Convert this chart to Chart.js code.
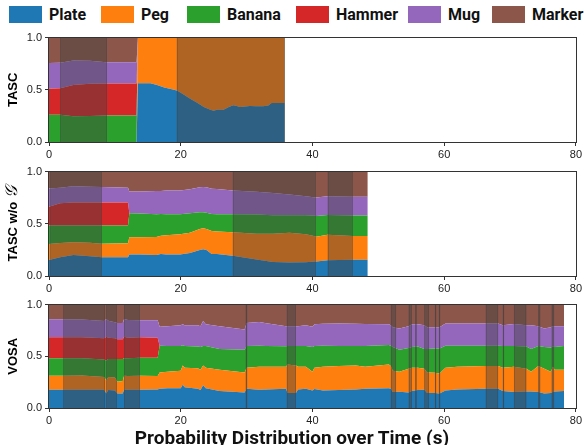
<!DOCTYPE html>
<html>
<head>
<meta charset="utf-8">
<script src="https://cdn.jsdelivr.net/npm/chart.js@4.4.1/dist/chart.umd.min.js"></script>
<style>
  html, body { margin: 0; padding: 0; background: #fff; }
  #wrap { position: relative; width: 584px; height: 445px; overflow: hidden; }
  #wrap canvas { position: absolute; left: 0; }
  .lg { position: absolute; top: 0; height: 29px; display: flex; align-items: center;
        font: 700 16px Roboto, sans-serif; color: #111; white-space: nowrap; }
  .lg i { display: inline-block; width: 33px; height: 17px; margin-right: 7px; }
  #xtitle { position: absolute; left: 0; width: 584px; top: 428px; text-align: center;
            font: 700 19px/19px Roboto, sans-serif; color: #111; white-space: nowrap; }
</style>
</head>
<body>
<div id="wrap">
  <div id="legend"></div>
  <canvas id="c1" width="584" height="136" style="top:28px"></canvas>
  <canvas id="c2" width="584" height="136" style="top:162px"></canvas>
  <canvas id="c3" width="584" height="135" style="top:295px"></canvas>
  <div id="xtitle">Probability Distribution over Time (s)</div>
</div>
<script>
// Objects, in stacking order (bottom to top)
const objects = ['Plate', 'Peg', 'Banana', 'Hammer', 'Mug', 'Marker'];
const colors  = ['#1f77b4', '#ff7f0e', '#2ca02c', '#d62728', '#9467bd', '#8c564b'];
const xTicks = [0, 20, 40, 60, 80];
const yTicks = [0, 0.5, 1];

// ---- TASC ----
const tascTime   = [0, 1.7, 3.7, 6.2, 8.7, 13.3, 13.5, 15.4, 16.4, 17.5, 19.0, 19.5, 20.5, 21.5, 22.5, 23.5, 24.5, 25.0, 25.5, 26.0, 26.5, 27.3, 28.0, 28.5, 29.0, 29.8, 30.5, 31.5, 32.5, 33.3, 33.8, 35.8];
const tascPlate  = [0, 0, 0, 0, 0, 0, .562, .562, .547, .522, .50, .49, .453, .413, .375, .335, .31, .30, .31, .31, .308, .335, .353, .345, .335, .34, .345, .343, .343, .35, .373, .373];
const tascPeg    = [0, 0, 0, 0, 0, 0, .438, .438, .453, .478, .50, .51, .547, .587, .625, .665, .69, .70, .69, .69, .692, .665, .647, .655, .665, .66, .655, .657, .657, .65, .627, .627];
const tascBanana = [.26, .26, .247, .25, .255, .255, 0, 0, 0, 0, 0, 0, 0, 0, 0, 0, 0, 0, 0, 0, 0, 0, 0, 0, 0, 0, 0, 0, 0, 0, 0, 0];
const tascHammer = [.25, .255, .30, .307, .305, .305, 0, 0, 0, 0, 0, 0, 0, 0, 0, 0, 0, 0, 0, 0, 0, 0, 0, 0, 0, 0, 0, 0, 0, 0, 0, 0];
const tascMug    = [.246, .245, .233, .221, .205, .205, 0, 0, 0, 0, 0, 0, 0, 0, 0, 0, 0, 0, 0, 0, 0, 0, 0, 0, 0, 0, 0, 0, 0, 0, 0, 0];
const tascMarker = [.244, .24, .22, .222, .235, .235, 0, 0, 0, 0, 0, 0, 0, 0, 0, 0, 0, 0, 0, 0, 0, 0, 0, 0, 0, 0, 0, 0, 0, 0, 0, 0];
const tascSpans  = [[1.7, 8.8], [19.4, 35.8]];

// ---- TASC w/o G ----
const wogTime   = [0, 1.7, 3.7, 6.2, 8.0, 12.0, 12.2, 13.8, 16.3, 17.0, 17.8, 19.9, 21.4, 22.9, 23.4, 23.9, 24.7, 25.5, 27.9, 31.5, 34, 36.5, 39, 40.4, 40.6, 42.3, 46.1, 48.4];
const wogPlate  = [.154, .18, .20, .19, .18, .18, .205, .205, .20, .21, .205, .205, .22, .25, .257, .25, .21, .21, .195, .157, .133, .13, .132, .14, .14, .15, .155, .155];
const wogPeg    = [.153, .135, .123, .128, .13, .133, .165, .167, .173, .175, .185, .195, .194, .20, .20, .20, .22, .216, .225, .248, .272, .284, .268, .24, .235, .245, .229, .229];
const wogBanana = [.176, .168, .16, .165, .173, .17, .23, .226, .219, .21, .202, .192, .186, .16, .153, .155, .165, .166, .172, .183, .178, .169, .183, .197, .20, .19, .196, .196];
const wogHammer = [.181, .213, .222, .222, .222, .222, 0, 0, 0, 0, 0, 0, 0, 0, 0, 0, 0, 0, 0, 0, 0, 0, 0, 0, 0, 0, 0, 0];
const wogMug    = [.173, .15, .154, .15, .148, .141, .209, .212, .223, .22, .228, .228, .23, .24, .243, .245, .24, .242, .228, .22, .212, .197, .182, .175, .177, .18, .178, .178];
const wogMarker = [.163, .154, .141, .145, .147, .154, .191, .19, .185, .185, .18, .18, .17, .15, .147, .15, .165, .166, .18, .192, .205, .22, .235, .248, .248, .235, .242, .242];
const wogSpans  = [[0.2, 8.0], [27.9, 40.5], [42.3, 46.1]];

// ---- VOSA ----
const vosaTime   = [0, 2.2, 5, 8.4, 8.7, 9.0, 10.0, 10.4, 11.2, 11.4, 12.0, 13.8, 16.5, 16.8, 18, 20.0, 20.3, 20.6, 22.6, 23.0, 23.4, 23.8, 25.9, 29.7, 30.0, 31.9, 33, 36.0, 36.2, 37.5, 37.8, 39.0, 40.0, 40.3, 41.6, 44, 46.6, 48, 51.6, 51.9, 52.2, 53.2, 54.6, 55.1, 56, 57.0, 57.4, 58.6, 59.3, 60.2, 62, 66.3, 68.2, 68.9, 70.6, 72.5, 73.2, 74.3, 75.2, 76.2, 76.5, 76.8, 78.2];
const vosaPlate  = [.177, .177, .177, .177, .14, .175, .17, .14, .14, .18, .177, .177, .18, .186, .19, .19, .224, .20, .185, .175, .22, .19, .165, .15, .186, .177, .18, .186, .145, .145, .18, .185, .17, .183, .17, .175, .18, .185, .19, .186, .155, .158, .15, .165, .175, .177, .145, .145, .14, .17, .18, .186, .186, .165, .155, .16, .16, .155, .14, .145, .155, .16, .165];
const vosaPeg    = [.135, .135, .137, .123, .125, .125, .125, .115, .12, .132, .133, .135, .13, .158, .16, .17, .186, .19, .20, .195, .19, .20, .205, .194, .204, .223, .22, .214, .275, .265, .22, .215, .18, .207, .23, .23, .23, .215, .23, .221, .205, .192, .23, .225, .215, .203, .199, .195, .194, .22, .22, .221, .221, .225, .245, .22, .19, .252, .24, .205, .245, .21, .205];
const vosaBanana = [.17, .17, .166, .17, .195, .175, .18, .22, .215, .17, .17, .173, .175, .259, .25, .24, .198, .21, .21, .22, .19, .21, .20, .22, .21, .203, .20, .196, .18, .19, .20, .20, .24, .21, .203, .195, .19, .20, .19, .196, .23, .214, .20, .20, .205, .19, .226, .235, .241, .213, .203, .196, .196, .21, .20, .215, .22, .193, .21, .235, .195, .22, .23];
const vosaHammer = [.202, .202, .204, .204, .23, .205, .20, .19, .19, .206, .20, .199, .195, 0, 0, 0, 0, 0, 0, 0, 0, 0, 0, 0, 0, 0, 0, 0, 0, 0, 0, 0, 0, 0, 0, 0, 0, 0, 0, 0, 0, 0, 0, 0, 0, 0, 0, 0, 0, 0, 0, 0, 0, 0, 0, 0, 0, 0, 0, 0, 0, 0, 0];
const vosaMug    = [.174, .174, .173, .168, .17, .165, .155, .158, .158, .172, .17, .164, .168, .182, .19, .20, .202, .20, .205, .20, .242, .21, .22, .196, .223, .229, .22, .194, .19, .19, .19, .20, .195, .21, .213, .217, .216, .212, .20, .197, .19, .206, .21, .22, .215, .23, .21, .205, .205, .214, .214, .214, .214, .20, .212, .205, .23, .19, .18, .195, .195, .20, .19];
const vosaMarker = [.142, .142, .143, .158, .14, .155, .17, .177, .177, .14, .15, .152, .152, .215, .21, .20, .19, .20, .20, .21, .158, .19, .21, .24, .177, .168, .18, .21, .21, .21, .21, .20, .215, .19, .184, .183, .184, .188, .19, .20, .22, .23, .21, .19, .19, .20, .22, .22, .22, .183, .183, .183, .183, .20, .188, .20, .20, .21, .23, .22, .21, .21, .21];
const vosaSpans  = [[2.2, 8.5], [8.7, 10.3], [11.4, 13.8], [29.85, 30.1], [36.1, 37.5], [51.9, 52.7], [54.6, 55.1], [55.6, 55.8], [57.0, 57.7], [58.6, 58.8], [59.2, 59.4], [66.3, 68.2], [68.9, 69.1], [70.6, 72.5], [74.3, 74.6], [76.3, 76.7]];

// Legend
const legend = document.getElementById('legend');
const legendLeft = [9, 101, 187, 296, 408, 492];
objects.forEach((name, i) => {
  const d = document.createElement('div');
  d.className = 'lg';
  d.style.left = legendLeft[i] + 'px';
  d.innerHTML = '<i style="background:' + colors[i] + '"></i>' + name;
  legend.appendChild(d);
});

// Darkened time spans, the axes frame and the rotated panel name
const overlay = {
  id: 'overlay',
  afterDatasetsDraw(chart, args, opts) {
    const { ctx, chartArea: a, scales: { x } } = chart;
    ctx.save();
    ctx.beginPath();
    ctx.rect(a.left, a.top, a.right - a.left, a.bottom - a.top);
    ctx.clip();
    for (const [s, e] of opts.spans) {
      const x1 = x.getPixelForValue(s), x2 = x.getPixelForValue(e);
      ctx.fillStyle = 'rgba(64,64,64,0.42)';
      ctx.fillRect(x1, a.top, x2 - x1, a.bottom - a.top);
      ctx.strokeStyle = 'rgba(64,64,64,0.3)';
      ctx.lineWidth = 1;
      ctx.beginPath();
      ctx.moveTo(Math.round(x1) + 0.5, a.top); ctx.lineTo(Math.round(x1) + 0.5, a.bottom);
      ctx.moveTo(Math.round(x2) - 0.5, a.top); ctx.lineTo(Math.round(x2) - 0.5, a.bottom);
      ctx.stroke();
    }
    ctx.restore();
  },
  afterDraw(chart, args, opts) {
    const { ctx, chartArea: a } = chart;
    ctx.save();
    ctx.strokeStyle = '#333';
    ctx.lineWidth = 1;
    ctx.strokeRect(Math.round(a.left) - 0.5, Math.round(a.top) - 0.5,
                   Math.round(a.right - a.left) + 1, Math.round(a.bottom - a.top) + 1);
    // panel name, read bottom-to-top, built from text runs of different fonts
    const runs = opts.title;
    ctx.translate(12, (a.top + a.bottom) / 2);
    ctx.rotate(-Math.PI / 2);
    ctx.fillStyle = '#000';
    ctx.textBaseline = 'alphabetic';
    let w = 0;
    for (const r of runs) { ctx.font = r.font; w += ctx.measureText(r.text).width; }
    let px = -w / 2;
    for (const r of runs) {
      ctx.font = r.font;
      ctx.fillText(r.text, px, 4.6 + (r.dy || 0));
      px += ctx.measureText(r.text).width;
    }
    ctx.restore();
  }
};

const nameFont = "bold 13px 'Liberation Sans', Arial, sans-serif";

function panel(id, time, series, spans, title) {
  // normalise each time step, then accumulate the stack boundaries
  const n = time.length;
  const total = time.map((_, j) => series.reduce((s, arr) => s + arr[j], 0));
  let acc = new Array(n).fill(0);
  const datasets = series.map((arr, i) => {
    acc = acc.map((v, j) => v + arr[j] / total[j]);
    return {
      label: objects[i],
      data: time.map((t, j) => ({ x: t, y: acc[j] })),
      backgroundColor: colors[i],
      borderColor: colors[i],
      borderWidth: 0,
      pointRadius: 0,
      tension: 0,
      fill: i === 0 ? 'origin' : '-1'
    };
  });
  const tickFont = { family: "'Liberation Sans', Arial, sans-serif", size: 11 };
  const tickGrid = { display: true, drawOnChartArea: false, drawTicks: true, tickLength: 4, color: '#333', lineWidth: 1 };
  return new Chart(document.getElementById(id), {
    type: 'line',
    data: { datasets },
    plugins: [overlay],
    options: {
      responsive: false,
      animation: false,
      events: [],
      layout: { padding: { top: 7, right: 6, left: 0, bottom: 0 } },
      plugins: { legend: { display: false }, tooltip: { enabled: false }, overlay: { spans, title } },
      scales: {
        x: {
          type: 'linear', min: xTicks[0], max: xTicks[xTicks.length - 1],
          afterBuildTicks: s => { s.ticks = xTicks.map(v => ({ value: v })); },
          ticks: { font: tickFont, color: '#222', padding: 2, maxRotation: 0, autoSkip: false },
          grid: tickGrid,
          border: { display: false },
          afterFit: s => { s.height = 22; }
        },
        y: {
          min: 0, max: 1,
          afterBuildTicks: s => { s.ticks = yTicks.map(v => ({ value: v })); },
          ticks: { font: tickFont, color: '#222', padding: 3, callback: v => Number(v).toFixed(1) },
          grid: tickGrid,
          border: { display: false },
          afterFit: s => { s.width = 49; }
        }
      }
    }
  });
}

panel('c1', tascTime, [tascPlate, tascPeg, tascBanana, tascHammer, tascMug, tascMarker], tascSpans,
      [{ text: 'TASC', font: nameFont }]);
panel('c2', wogTime, [wogPlate, wogPeg, wogBanana, wogHammer, wogMug, wogMarker], wogSpans,
      [{ text: 'TASC w/o ', font: nameFont }, { text: '𝒢', font: "italic 17px 'DejaVu Serif', 'DejaVu Sans', serif", dy: 0 }]);
panel('c3', vosaTime, [vosaPlate, vosaPeg, vosaBanana, vosaHammer, vosaMug, vosaMarker], vosaSpans,
      [{ text: 'VOSA', font: nameFont }]);
</script>
</body>
</html>
